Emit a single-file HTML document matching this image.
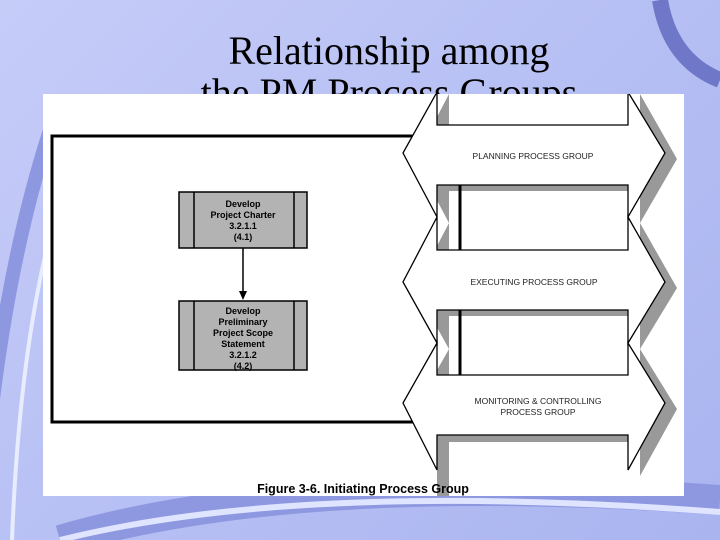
<!DOCTYPE html>
<html><head><style>
body{margin:0;width:720px;height:540px;overflow:hidden;background:linear-gradient(135deg,#c6ccf8 0%,#b7c0f4 50%,#aab4ef 100%);position:relative;font-family:"Liberation Sans",sans-serif}
.t{position:absolute;left:0;width:778px;text-align:center;font-family:"Liberation Serif",serif;font-size:40px;line-height:42px;color:#000}
</style></head><body>
<svg width="720" height="540" style="position:absolute;left:0;top:0">
<path d="M-20,540 Q-5,300 50,130" stroke="#8e98e0" stroke-width="14" fill="none"/>
<path d="M12,540 Q20,330 60,200" stroke="#e8ecff" stroke-width="4" fill="none"/>
<path d="M660,0 Q670,60 720,80" stroke="#6f78c8" stroke-width="16" fill="none"/>
<path d="M60,540 Q300,470 720,500" stroke="#8e98e0" stroke-width="30" fill="none"/>
<path d="M60,540 Q300,480 720,512" stroke="#dfe4ff" stroke-width="6" fill="none"/>
</svg>
<div class="t" style="top:30px">Relationship among</div>
<div class="t" style="top:72px">the PM Process Groups</div>
<svg width="720" height="540" style="position:absolute;left:0;top:0">
<defs><clipPath id="c"><rect x="43" y="94" width="641" height="402"/></clipPath></defs>
<rect x="43" y="94" width="641" height="402" fill="#fff"/>
<path d="M420,136 L52,136 L52,422 L420,422" fill="none" stroke="#000" stroke-width="3"/>
<g clip-path="url(#c)">
<g fill="#999" transform="translate(12,6)">
<polygon points="437,88 437,125 628,125 628,88 665,153 628,217 628,185 437,185 437,217 403,153"/>
<polygon points="437,217 437,250 628,250 628,217 665,282 628,343 628,310 437,310 437,343 403,282"/>
<polygon points="437,343 437,375 628,375 628,343 665,403 628,470 628,435 437,435 437,470 403,403"/>
</g>
<rect x="437" y="435" width="191" height="61" fill="#fff"/>
<rect x="437" y="435" width="191" height="7" fill="#999"/>
<rect x="437" y="435" width="12" height="61" fill="#999"/>
<g fill="#fff" stroke="#000" stroke-width="1.3">
<polygon points="437,92 437,125 628,125 628,92 665,153 628,217 628,185 437,185 437,217 403,153"/>
<polygon points="437,217 437,250 628,250 628,217 665,282 628,343 628,310 437,310 437,343 403,282"/>
<polygon points="437,343 437,375 628,375 628,343 665,403 628,470 628,435 437,435 437,470 403,403"/>
</g>
</g>
<line x1="460" y1="185" x2="460" y2="250" stroke="#000" stroke-width="3"/>
<line x1="460" y1="310" x2="460" y2="375" stroke="#000" stroke-width="3"/>
<g font-size="8.5" text-anchor="middle" fill="#222">
<text x="533" y="159">PLANNING PROCESS GROUP</text>
<text x="534" y="285">EXECUTING PROCESS GROUP</text>
<text x="538" y="404">MONITORING &amp; CONTROLLING</text>
<text x="538" y="415">PROCESS GROUP</text>
</g>
<g stroke="#000" stroke-width="1.5" fill="#b3b3b3">
<rect x="179" y="192" width="128" height="56"/>
<rect x="179" y="301" width="128" height="69"/>
</g>
<g stroke="#000" stroke-width="1.5">
<line x1="194" y1="192" x2="194" y2="248"/><line x1="294" y1="192" x2="294" y2="248"/>
<line x1="194" y1="301" x2="194" y2="370"/><line x1="294" y1="301" x2="294" y2="370"/>
<line x1="243" y1="248" x2="243" y2="292"/>
</g>
<polygon points="239,291 247,291 243,300" fill="#000"/>
<g font-size="9" font-weight="bold" text-anchor="middle" fill="#000">
<text x="243" y="207">Develop</text>
<text x="243" y="218">Project Charter</text>
<text x="243" y="229">3.2.1.1</text>
<text x="243" y="240">(4.1)</text>
<text x="243" y="314">Develop</text>
<text x="243" y="325">Preliminary</text>
<text x="243" y="336">Project Scope</text>
<text x="243" y="347">Statement</text>
<text x="243" y="358">3.2.1.2</text>
<text x="243" y="369">(4.2)</text>
</g>
<text x="363" y="493" font-size="12.5" font-weight="bold" text-anchor="middle">Figure 3-6. Initiating Process Group</text>
</svg>
</body></html>
